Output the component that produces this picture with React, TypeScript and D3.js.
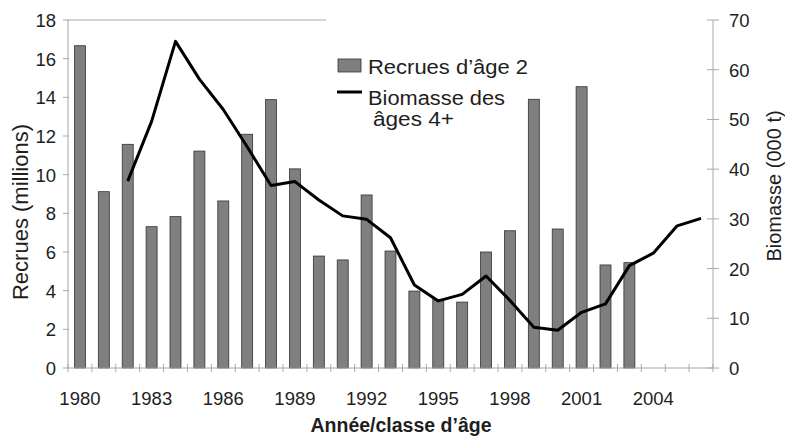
import React from "react";
import * as d3 from "d3";

const years: number[] = [1980,1981,1982,1983,1984,1985,1986,1987,1988,1989,1990,1991,1992,1993,1994,1995,1996,1997,1998,1999,2000,2001,2002,2003,2004,2005,2006];
const recruits: (number | null)[] = [16.67,9.12,11.57,7.31,7.83,11.22,8.64,12.09,13.88,10.3,5.79,5.59,8.95,6.05,3.98,3.55,3.41,6.0,7.1,13.9,7.19,14.55,5.33,5.45,null,null,null];
const biomass: (number | null)[] = [null,null,37.6,49.6,65.7,58.1,52.0,44.5,36.7,37.5,33.8,30.6,29.9,26.2,16.7,13.5,14.8,18.5,13.6,8.2,7.6,11.2,12.9,20.6,23.1,28.6,30.1];
const leftTicks: number[] = [0,2,4,6,8,10,12,14,16,18];
const rightTicks: number[] = [0,10,20,30,40,50,60,70];
const xLabelYears: number[] = [1980,1983,1986,1989,1992,1995,1998,2001,2004];

export default function App() {
  const W = 785, H = 436;
  const x0 = 68, x1 = 713, yTop = 20, yBot = 368;
  const font = "'Liberation Sans', Arial, sans-serif";
  const axisColor = "#a8a8a8";
  const textColor = "#1e1e1e";

  const x = d3.scaleBand<number>().domain(years).range([x0, x1]).paddingInner(0).paddingOuter(0);
  const yL = d3.scaleLinear().domain([0, 18]).range([yBot, yTop]);
  const yR = d3.scaleLinear().domain([0, 70]).range([yBot, yTop]);
  const bw = x.bandwidth();
  const barW = bw * 0.46;

  const lineData = years.map((yr, i) => ({ yr, v: biomass[i] })).filter(d => d.v !== null) as { yr: number; v: number }[];
  const line = d3.line<{ yr: number; v: number }>()
    .x(d => (x(d.yr) as number) + bw / 2)
    .y(d => yR(d.v));

  const tickXs = [...years.map(y => x(y) as number), x1];

  return (
    <svg width={W} height={H} style={{ position: "absolute", left: 0, top: 0, background: "#fff" }} fontFamily={font}>
      <rect x={0} y={0} width={W} height={H} fill="#fff" />
      <line x1={x0} x2={326} y1={yTop} y2={yTop} stroke={axisColor} strokeWidth={1} />
      {years.map((yr, i) => {
        const v = recruits[i];
        if (v === null) return null;
        const cx = (x(yr) as number) + bw / 2;
        return (
          <rect key={yr} x={cx - barW / 2} y={yL(v)} width={barW} height={yBot - yL(v)}
            fill="#7f7f7f" stroke="#333" strokeWidth={0.8} />
        );
      })}
      <line x1={x0} x2={x0} y1={yTop} y2={yBot} stroke={axisColor} strokeWidth={1} />
      {leftTicks.map(t => (
        <g key={"l" + t}>
          <line x1={x0 - 5} x2={x0 + 1} y1={yL(t)} y2={yL(t)} stroke={axisColor} />
          <text x={x0 - 12} y={yL(t) + 7} textAnchor="end" fontSize={18.5} fill={textColor}>{t}</text>
        </g>
      ))}
      <line x1={x1} x2={x1} y1={yTop} y2={yBot} stroke={axisColor} strokeWidth={1} />
      {rightTicks.map(t => (
        <g key={"r" + t}>
          <line x1={x1 - 6} x2={x1 + 6} y1={yR(t)} y2={yR(t)} stroke={axisColor} />
          <text x={x1 + 16} y={yR(t) + 7} textAnchor="start" fontSize={18.5} fill={textColor}>{t}</text>
        </g>
      ))}
      <line x1={x0} x2={x1} y1={yBot} y2={yBot} stroke={axisColor} strokeWidth={1} />
      {tickXs.map((tx, i) => (
        <line key={"x" + i} x1={tx} x2={tx} y1={yBot - 4} y2={yBot + 4} stroke={axisColor} />
      ))}
      {xLabelYears.map(yr => (
        <text key={"xl" + yr} x={(x(yr) as number) + bw / 2} y={405} textAnchor="middle" fontSize={18.5} fill={textColor}>{yr}</text>
      ))}
      <path d={line(lineData) || ""} fill="none" stroke="#000" strokeWidth={3} strokeLinejoin="round" />
      <text transform={`translate(28,212) rotate(-90)`} textAnchor="middle" fontSize={22} fill={textColor}>Recrues (millions)</text>
      <text transform={`translate(781,186) rotate(-90)`} textAnchor="middle" fontSize={20} fill={textColor}>Biomasse (000 t)</text>
      <text x={401} y={432} textAnchor="middle" fontSize={19.5} fontWeight="bold" fill={textColor}>Année/classe d’âge</text>
      <rect x={338} y={59} width={23} height={13} fill="#7f7f7f" stroke="#333" strokeWidth={0.8} />
      <text x={368} y={74} fontSize={20} fill={textColor} textLength={160} lengthAdjust="spacingAndGlyphs">Recrues d’âge 2</text>
      <line x1={337} x2={362} y1={92} y2={92} stroke="#000" strokeWidth={3} />
      <text x={368} y={105} fontSize={20} fill={textColor} textLength={137} lengthAdjust="spacingAndGlyphs">Biomasse des</text>
      <text x={373} y={126} fontSize={20} fill={textColor} textLength={81} lengthAdjust="spacingAndGlyphs">âges 4+</text>
    </svg>
  );
}
